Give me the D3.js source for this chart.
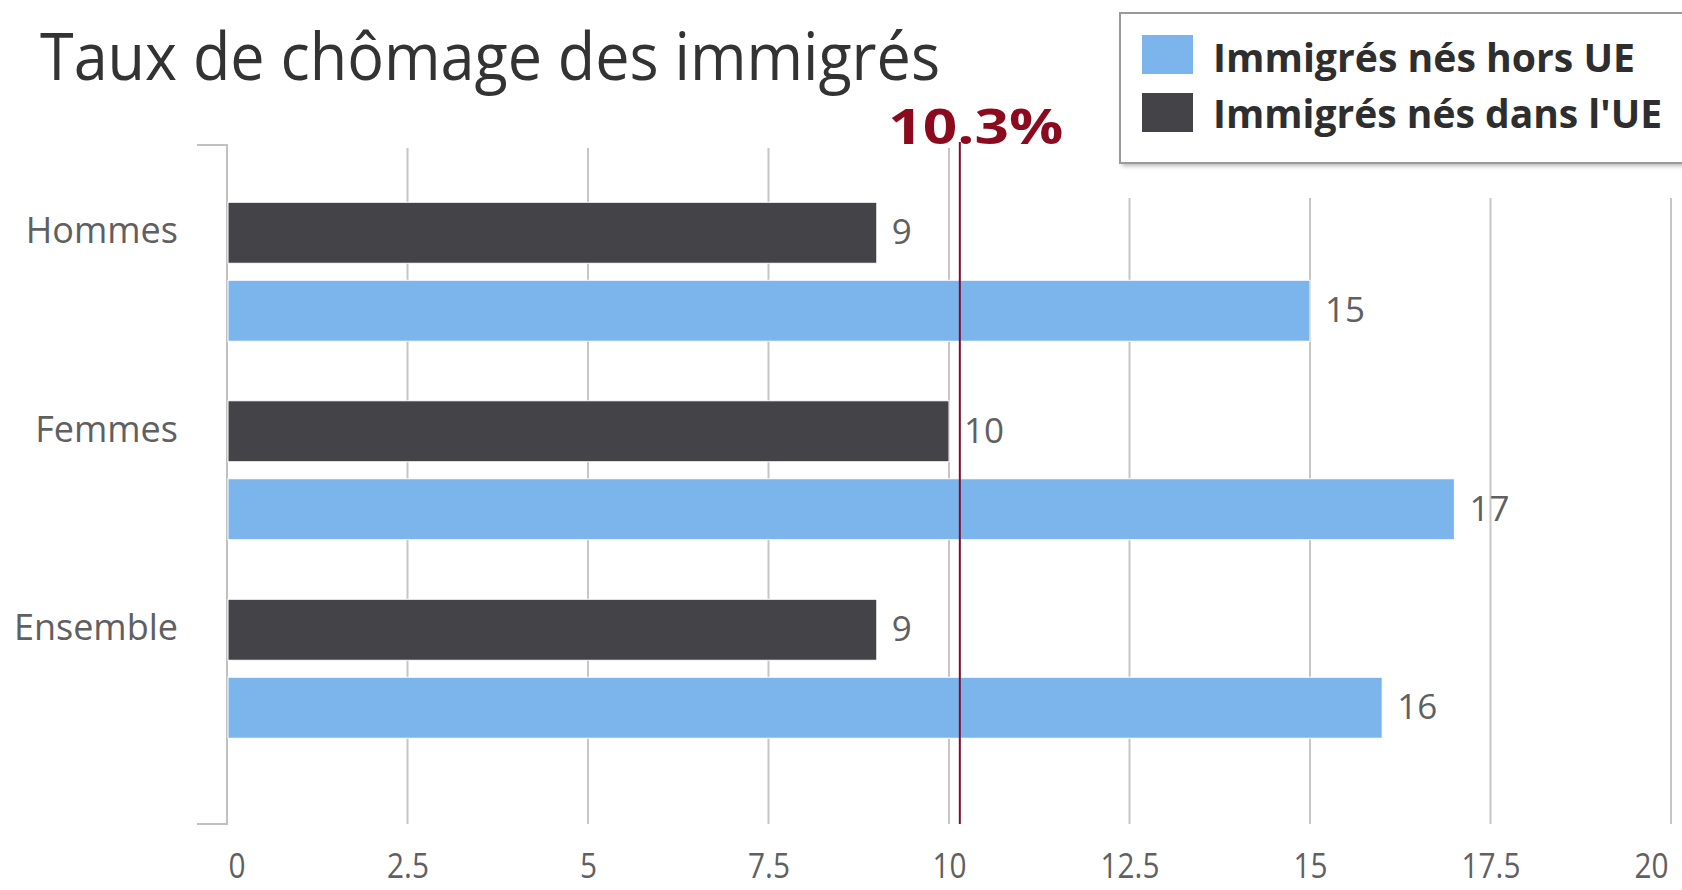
<!DOCTYPE html>
<html>
<head>
<meta charset="utf-8">
<script src="https://cdn.jsdelivr.net/npm/d3@7"></script>
<style>
  html, body { margin: 0; padding: 0; background: #fff; }
  svg { display: block; }
  text { font-family: "Open Sans", "DejaVu Sans", sans-serif; }
</style>
</head>
<body>
<svg id="chart" width="1682" height="890"></svg>
<script>
// ---- data ----
const title = "Taux de chômage des immigrés";
const categories = ["Hommes", "Femmes", "Ensemble"];
const seriesNames = ["Immigrés nés hors UE", "Immigrés nés dans l'UE"];
const horsUE = [15, 17, 16];
const dansUE = [9, 10, 9];
const xTicks = [0, 2.5, 5, 7.5, 10, 12.5, 15, 17.5, 20];
const refLabel = "10.3%";
const refLineAt = 10.15; // where the reference line is drawn in the picture

// ---- styles ----
const colHors = "#7cb5ec";
const colDans = "#434348";
const gridCol = "#c6c6c6";
const labelCol = "#606060";
const refCol = "#7a1030";

const svg = d3.select("#chart");

const x = d3.scaleLinear().domain([0, 20]).range([227, 1671]);
const y0 = d3.scaleBand().domain(categories).range([172.5, 768]).paddingInner(0.3).paddingOuter(0.15);
const y1 = d3.scaleBand().domain(["dans", "hors"]).range([0, y0.bandwidth()]).paddingInner(0.218);

const plotTop = 145, plotBottom = 824;

// gridlines
svg.append("g").selectAll("line")
  .data(xTicks.filter(t => t > 0))
  .join("line")
  .attr("x1", d => x(d)).attr("x2", d => x(d))
  .attr("y1", d => d >= 12.5 ? 198 : 148)
  .attr("y2", plotBottom)
  .attr("stroke", gridCol).attr("stroke-width", 2);

// left axis line with end ticks
const ax = svg.append("g").attr("stroke", "#c0c0c0").attr("stroke-width", 2).attr("fill", "none");
ax.append("path").attr("d", `M${x(0) - 30},${plotTop}H${x(0)}V${plotBottom}H${x(0) - 30}`);

// bars
const rows = categories.map((c, i) => ({ c, dans: dansUE[i], hors: horsUE[i] }));
const g = svg.append("g");
rows.forEach(r => {
  [["dans", r.dans, colDans], ["hors", r.hors, colHors]].forEach(([k, v, col]) => {
    const yy = y0(r.c) + y1(k);
    g.append("rect")
      .attr("x", x(0) + 1).attr("y", yy)
      .attr("width", x(v) - x(0) - 1).attr("height", y1.bandwidth())
      .attr("fill", col).attr("stroke", "#fff").attr("stroke-width", 1);
    g.append("text")
      .attr("x", x(v) + 15).attr("y", yy + y1.bandwidth() / 2 - 2)
      .attr("dominant-baseline", "central")
      .attr("font-size", 35).attr("fill", labelCol)
      .text(d3.format("d")(v));
  });
  // category label aligned with first bar
  g.append("text")
    .attr("x", 178).attr("y", y0(r.c) + y1("dans") + y1.bandwidth() / 2 + 10.5)
    .attr("text-anchor", "end").attr("font-size", 36).attr("fill", labelCol)
    .text(r.c);
});

// bottom axis tick labels
const xAxis = d3.axisBottom(x).tickValues(xTicks).tickSize(0).tickPadding(0)
  .tickFormat(d => String(d));
const xg = svg.append("g").attr("transform", `translate(0,${plotBottom})`).call(xAxis);
xg.select(".domain").remove();
xg.selectAll(".tick text")
  .attr("font-family", "'Open Sans', sans-serif")
  .attr("font-size", 35).attr("fill", labelCol)
  .attr("dy", null).attr("y", 54)
  .attr("text-anchor", (d, i) => i === 0 ? "start" : (i === xTicks.length - 1 ? "end" : "middle"))
  .attr("x", (d, i) => (i === 0 ? 1 : (i === xTicks.length - 1 ? -3 : 0)) / 0.85)
  .attr("transform", "scale(0.85,1)");

// reference line
svg.append("line")
  .attr("x1", x(refLineAt)).attr("x2", x(refLineAt))
  .attr("y1", 142).attr("y2", plotBottom)
  .attr("stroke", refCol).attr("stroke-width", 2);
svg.append("text")
  .attr("x", x(refLineAt) + 16).attr("y", 144)
  .attr("text-anchor", "middle")
  .attr("font-family", "'DejaVu Sans', sans-serif").attr("font-weight", "bold")
  .attr("font-size", 48).attr("fill", "#8b0a1e")
  .attr("textLength", 175).attr("lengthAdjust", "spacingAndGlyphs")
  .text(refLabel);

// title
svg.append("text")
  .attr("x", 40).attr("y", 80)
  .attr("font-size", 66).attr("fill", "#333")
  .attr("textLength", 900).attr("lengthAdjust", "spacingAndGlyphs")
  .text(title);

// legend
const defs = svg.append("defs");
const f = defs.append("filter").attr("id", "sh").attr("x", "-10%").attr("y", "-10%").attr("width", "130%").attr("height", "140%");
f.append("feGaussianBlur").attr("stdDeviation", 2);
const lg = svg.append("g");
lg.append("rect").attr("x", 1122).attr("y", 17).attr("width", 600).attr("height", 149)
  .attr("fill", "#999").attr("opacity", 0.7).attr("filter", "url(#sh)");
lg.append("rect").attr("x", 1120).attr("y", 13).attr("width", 600).attr("height", 150)
  .attr("fill", "#fff").attr("stroke", "#9a9a9a").attr("stroke-width", 2);
const legItems = [
  { name: seriesNames[0], col: colHors, sy: 35, ty: 72, len: 422 },
  { name: seriesNames[1], col: colDans, sy: 93, ty: 128, len: 449 }
];
legItems.forEach(it => {
  lg.append("rect").attr("x", 1142).attr("y", it.sy).attr("width", 51).attr("height", 39).attr("fill", it.col);
  lg.append("text").attr("x", 1213).attr("y", it.ty)
    .attr("font-size", 39).attr("font-weight", "bold").attr("fill", "#2e2e2e")
    .attr("textLength", it.len).attr("lengthAdjust", "spacingAndGlyphs")
    .text(it.name);
});
</script>
</body>
</html>
